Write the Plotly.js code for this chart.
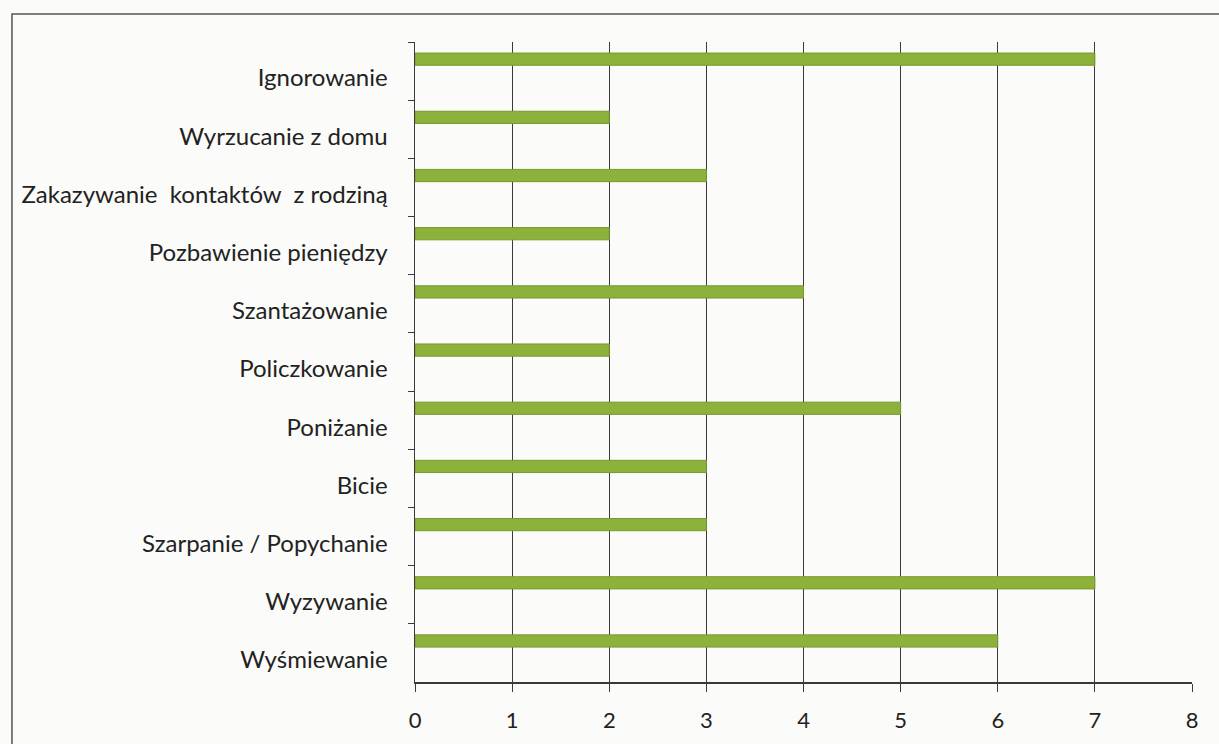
<!DOCTYPE html>
<html>
<head>
<meta charset="utf-8">
<script src="https://cdn.plot.ly/plotly-3.0.1.min.js"></script>
<style>
html,body{margin:0;padding:0;background:#fbfbf9;}
#chart{width:1219px;height:744px;}
</style>
</head>
<body>
<div id="chart"></div>
<script>
const categories = [
  "Ignorowanie",
  "Wyrzucanie z domu",
  "Zakazywanie  kontaktów  z rodziną",
  "Pozbawienie pieniędzy",
  "Szantażowanie",
  "Policzkowanie",
  "Poniżanie",
  "Bicie",
  "Szarpanie / Popychanie",
  "Wyzywanie",
  "Wyśmiewanie"
];
const values = [7, 2, 3, 2, 4, 2, 5, 3, 3, 7, 6];
const xTicks = [0, 1, 2, 3, 4, 5, 6, 7, 8];

const trace = {
  type: "bar",
  orientation: "h",
  y: categories,
  x: values,
  width: 0.21,
  offset: -0.31,
  marker: {color: "#8cb23c", line: {color: "#77992f", width: 1}},
  hoverinfo: "x+y"
};

const layout = {
  width: 1219,
  height: 744,
  paper_bgcolor: "#fbfbf9",
  plot_bgcolor: "#fbfbf9",
  margin: {l: 415, r: 27, t: 42, b: 62},
  font: {family: "Lato, 'Noto Sans', sans-serif", color: "#222222", size: 24},
  showlegend: false,
  bargap: 0,
  xaxis: {
    range: [0, 8],
    tickvals: xTicks,
    ticktext: xTicks.map(String),
    showgrid: true,
    gridcolor: "#3a3a3a",
    gridwidth: 1.2,
    zeroline: false,
    showline: true,
    linecolor: "#3a3a3a",
    linewidth: 1.5,
    ticks: "outside",
    ticklen: 8,
    tickcolor: "#3a3a3a",
    ticklabelstandoff: 10,
    tickfont: {size: 22},
    fixedrange: true
  },
  yaxis: {
    type: "category",
    autorange: "reversed",
    showgrid: false,
    zeroline: false,
    showline: true,
    linecolor: "#3a3a3a",
    linewidth: 1.5,
    ticks: "outside",
    tickson: "boundaries",
    ticklen: 6,
    tickcolor: "#3a3a3a",
    ticklabelstandoff: 21,
    ticklabelshift: -7,
    tickfont: {size: 24},
    fixedrange: true
  },
  shapes: [{
    type: "rect",
    xref: "paper", yref: "paper",
    x0: -0.5187, x1: 1.2, y0: -0.3, y1: 1.0437,
    line: {color: "#555", width: 1.5},
    fillcolor: "rgba(0,0,0,0)",
    layer: "below"
  }]
};

Plotly.newPlot("chart", [trace], layout, {displayModeBar: false, staticPlot: true});
</script>
</body>
</html>
